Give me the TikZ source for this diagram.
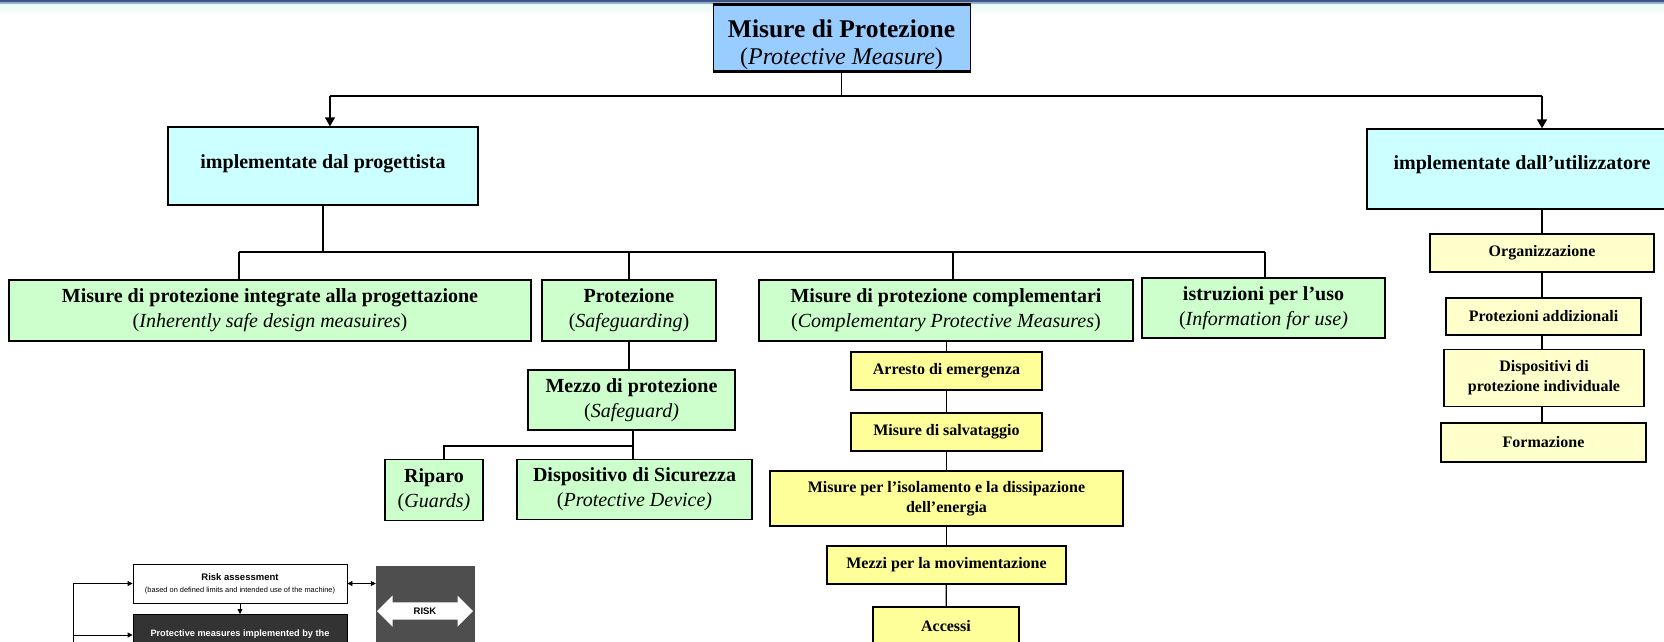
\documentclass[tikz,border=0pt]{standalone}
\usepackage{fontspec}
\setmainfont{Liberation Serif}
\newfontfamily\arialfont{Liberation Sans}
\usetikzlibrary{arrows.meta,shapes.arrows}
\definecolor{titleblue}{RGB}{153,204,255}
\definecolor{cyanbox}{RGB}{204,255,255}
\definecolor{greenbox}{RGB}{204,255,204}
\definecolor{yellowbox}{RGB}{255,255,153}
\definecolor{paleyellow}{RGB}{255,255,204}
\definecolor{topblue}{RGB}{62,84,135}
\definecolor{topblue2}{RGB}{150,175,212}
\definecolor{topmint}{RGB}{232,250,242}
\definecolor{darkbox}{RGB}{51,51,51}
\definecolor{riskgray}{RGB}{78,78,78}
\begin{document}
\begin{tikzpicture}[x=1pt,y=-1pt,
  box/.style={draw=black, line width=1.3pt, inner sep=0pt, align=center},
  gbox/.style={box, fill=greenbox, font=\fontsize{20}{25}\selectfont},
  ybox/.style={box, fill=yellowbox, font=\bfseries\fontsize{16}{20}\selectfont},
  pbox/.style={box, fill=paleyellow, font=\bfseries\fontsize{16}{20}\selectfont},
  cbox/.style={box, fill=cyanbox, font=\bfseries\fontsize{20}{24}\selectfont, text height=15pt},
  conn/.style={line width=1.3pt},
  arr/.style={conn, -{Triangle[length=9pt,width=10pt]}},
  thin/.style={line width=0.8pt},
  thinarr/.style={thin, -{Triangle[length=5pt,width=5pt]}},
  thinboth/.style={thin, {Triangle[length=5pt,width=5pt]}-{Triangle[length=5pt,width=5pt]}},
]
\useasboundingbox (0,0) rectangle (1664,641);
\clip (0,0) rectangle (1664,641);
\fill[white] (0,0) rectangle (1664,641);
% top band
\shade[top color=topmint, bottom color=white] (0,4) rectangle (1664,17);
\fill[topblue2] (0,2) rectangle (1664,4);
\fill[topblue] (0,0) rectangle (1664,2);

% title
\node[box, line width=1pt, fill=titleblue, minimum width=257pt, minimum height=66pt] (title) at (841.5,38) {};
\draw[line width=2.5pt] (title.north west) -- (title.north east);
\draw[line width=2.5pt] (title.south west) -- (title.south east);
\node[align=center, inner sep=0pt, font=\fontsize{24}{27}\selectfont] (titletext) at (841.5,45)
  {{\bfseries\fontsize{25.5}{27}\selectfont Misure di Protezione}\\(\textit{Protective Measure})};

% level 1
\node[cbox, text depth=11pt, minimum width=310pt, minimum height=78pt] (prog) at (323,166) {implementate dal progettista};
\node[cbox, text depth=15pt, minimum width=310pt, minimum height=80pt] (util) at (1522,169) {implementate dall’utilizzatore};

\coordinate (jL) at (330,96);
\coordinate (jR) at (1542,96);
\draw[conn] (title.south) -- (title.south |- jL);
\draw[conn] (jL) -- (jR);
\draw[arr] (jL) -- (jL |- prog.north);
\draw[arr] (jR) -- (jR |- util.north);

% level 2
\node[gbox, minimum width=522pt, minimum height=61pt] (integ) at (270,310.5)
  {\textbf{Misure di protezione integrate alla progettazione}\\(\textit{Inherently safe design measuires})};
\node[gbox, minimum width=174pt, minimum height=61pt] (prot) at (629,310.5)
  {\textbf{Protezione}\\(\textit{Safeguarding})};
\node[gbox, minimum width=374pt, minimum height=61pt] (compl) at (946,310.5)
  {\textbf{Misure di protezione complementari}\\(\textit{Complementary Protective Measures})};
\node[gbox, minimum width=243pt, minimum height=60pt] (istr) at (1263.5,308)
  {\textbf{istruzioni per l’uso}\\(\textit{Information for use)}};

\coordinate (bL) at (239,252);
\coordinate (bR) at (1265,252);
\draw[conn] (prog.south) -- (prog.south |- bL);
\draw[conn] (bL) -- (bR);
\draw[conn] (bL) -- (bL |- integ.north);
\draw[conn] (prot.north |- bL) -- (prot.north);
\coordinate (bC) at (953,252);
\draw[conn] (bC) -- (bC |- compl.north);
\draw[conn] (bR) -- (bR |- istr.north);

% safeguard branch
\node[gbox, minimum width=207pt, minimum height=60pt] (mezzo) at (631.5,400)
  {\textbf{Mezzo di protezione}\\(\textit{Safeguard)}};
\node[gbox, minimum width=98pt, minimum height=61pt] (riparo) at (434,490)
  {\textbf{Riparo}\\(\textit{Guards)}};
\node[gbox, minimum width=235pt, minimum height=60pt] (dispo) at (634.5,489.5)
  {\textbf{Dispositivo di Sicurezza}\\(\textit{Protective Device)}};
\draw[conn] (prot.south) -- (prot.south |- mezzo.north);
\coordinate (sL) at (444,446);
\coordinate (sR) at (633,446);
\draw[conn] (sR |- mezzo.south) -- (sR |- dispo.north);
\draw[conn] (sL |- riparo.north) -- (sL) -- (sR);

% complementary chain
\node[ybox, minimum width=191pt, minimum height=38pt] (arresto) at (946.5,371) {Arresto di emergenza};
\node[ybox, minimum width=191pt, minimum height=38pt] (salv) at (946.5,432) {Misure di salvataggio};
\node[ybox, minimum width=353pt, minimum height=55pt] (isol) at (946.5,498.5) {Misure per l’isolamento e la dissipazione\\dell’energia};
\node[ybox, minimum width=239pt, minimum height=38pt] (mezzi) at (946.5,565) {Mezzi per la movimentazione};
\node[ybox, minimum width=146pt, minimum height=38pt] (accessi) at (946,626) {Accessi};
\draw[conn] (arresto.north |- compl.south) -- (arresto.north);
\draw[conn] (arresto) -- (salv);
\draw[conn] (salv) -- (isol);
\draw[conn] (isol) -- (mezzi);
\draw[conn] (mezzi) -- (accessi);

% user chain
\node[pbox, minimum width=224pt, minimum height=38pt] (org) at (1542,253) {Organizzazione};
\node[pbox, minimum width=195pt, minimum height=37pt] (padd) at (1543.5,316.5) {Protezioni addizionali};
\node[pbox, minimum width=200pt, minimum height=57pt] (dpi) at (1544,378) {Dispositivi di\\protezione individuale};
\node[pbox, minimum width=205pt, minimum height=39pt] (form) at (1543.5,442.5) {Formazione};
\draw[conn] (jR |- util.south) -- (jR |- org.north);
\draw[conn] (jR |- org.south) -- (jR |- padd.north);
\draw[conn] (jR |- padd.south) -- (jR |- dpi.north);
\draw[conn] (jR |- dpi.south) -- (jR |- form.north);

% risk diagram
\node[draw=black, thin, fill=white, minimum width=214pt, minimum height=39pt, inner sep=0pt, align=center,
  font=\arialfont\fontsize{7.4}{12}\selectfont] (ra) at (240,583.5)
  {{\bfseries\fontsize{9.5}{12}\selectfont Risk assessment}\\(based on defined limits and intended use of the machine)};
\node[draw=black, thin, fill=darkbox, text=white, minimum width=214pt, inner sep=0pt, align=center,
  font=\arialfont\bfseries\fontsize{9.2}{11}\selectfont, anchor=north] (pm) at (240,614)
  {\rule{0pt}{22pt}Protective measures implemented by the\\\strut};
\node[fill=riskgray, minimum width=99pt, minimum height=84pt, inner sep=0pt] (riskbox) at (425.5,608) {};
\node[double arrow, fill=white, minimum height=96pt, minimum width=31pt, inner sep=4pt,
  double arrow head extend=6pt, font=\arialfont\bfseries\fontsize{9.5}{11}\selectfont] (riskarrow) at (425,611) {RISK};
\draw[thinarr] (ra.south) -- (pm.north);
\coordinate (fb) at (73,660);
\draw[thinarr] (fb) |- (ra.west);
\draw[thinarr] (fb) |- ([yshift=-21pt]pm.north west);
\draw[thinboth] (ra.east) -- (ra.east -| riskbox.west);
\end{tikzpicture}
\end{document}
